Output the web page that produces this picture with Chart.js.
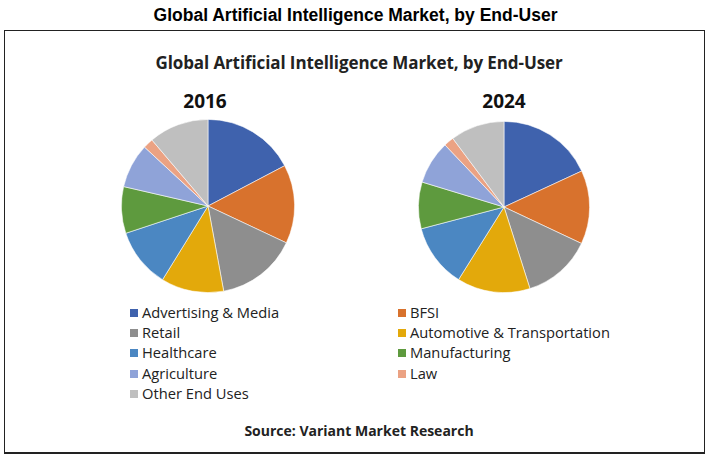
<!DOCTYPE html>
<html>
<head>
<meta charset="utf-8">
<script src="https://cdn.jsdelivr.net/npm/chart.js@4.4.1/dist/chart.umd.min.js"></script>
<style>
  html, body { margin: 0; padding: 0; background: #fff; }
  #root { position: relative; width: 711px; height: 461px; overflow: hidden; }
  #outerTitle { position: absolute; left: 0; top: 5px; width: 711px; text-align: center;
    font-family: "Liberation Sans", Arial, sans-serif; font-weight: bold; font-size: 17.5px; color: #000; }
  #box { position: absolute; left: 4px; top: 30px; width: 699px; height: 421px; border: 1px solid #222; border-bottom-width: 2px; }
  #innerTitle { position: absolute; left: 0; top: 51px; width: 718px; text-align: center;
    font-family: "Open Sans", sans-serif; font-weight: bold; font-size: 17px; color: #222; letter-spacing: -0.1px; }
  .year { position: absolute; top: 88px; width: 100px; text-align: center;
    font-family: "Open Sans", sans-serif; font-weight: bold; font-size: 19px; color: #111; }
  canvas.pie { position: absolute; }
  .leg { position: absolute; font-family: "Open Sans", sans-serif; font-size: 14.7px; color: #222; white-space: nowrap; line-height: 18px; }
  .leg i { display: inline-block; width: 8px; height: 8px; margin-right: 4px; vertical-align: 1px; }
  #source { position: absolute; left: 0; top: 421px; width: 718px; text-align: center;
    font-family: "Open Sans", sans-serif; font-weight: bold; font-size: 14px; color: #222; }
</style>
</head>
<body>
<div id="root">
  <div id="outerTitle">Global Artificial Intelligence Market, by End-User</div>
  <div id="box"></div>
  <div id="innerTitle">Global Artificial Intelligence Market, by End-User</div>
  <div class="year" style="left:155px">2016</div>
  <div class="year" style="left:454px">2024</div>
  <canvas id="pie2016" class="pie" width="174" height="174" style="left:121px;top:119px"></canvas>
  <canvas id="pie2024" class="pie" width="172" height="172" style="left:418px;top:121px"></canvas>
  <div id="legend"></div>
  <div id="source">Source: Variant Market Research</div>
</div>
<script>
const categories = ["Advertising & Media", "BFSI", "Retail", "Automotive & Transportation",
  "Healthcare", "Manufacturing", "Agriculture", "Law", "Other End Uses"];
const share2016 = [17.3, 14.7, 15.1, 11.7, 11.1, 8.7, 8.3, 1.9, 11.2];
const share2024 = [18.1, 13.9, 13.1, 13.8, 12.0, 8.8, 8.2, 1.9, 10.2];
const colors = ["#3F62AD", "#D8722D", "#8E8E8E", "#E3A90B", "#4B87C2",
  "#5E9A3E", "#8FA3D8", "#EBA283", "#BFBFBF"];

function makePie(id, values) {
  new Chart(document.getElementById(id), {
    type: 'pie',
    data: { labels: categories, datasets: [{ data: values, backgroundColor: colors,
      borderColor: 'rgba(255,255,255,0.7)', borderWidth: 0.8 }] },
    options: {
      responsive: false, animation: false,
      layout: { padding: 0 },
      plugins: { legend: { display: false }, tooltip: { enabled: false } }
    }
  });
}
makePie('pie2016', share2016);
makePie('pie2024', share2024);

// legend, two columns filled row-wise
const legend = document.getElementById('legend');
const colX = [130, 398];
const rowY = [303, 323, 343, 364, 384];
categories.forEach((c, i) => {
  const d = document.createElement('div');
  d.className = 'leg';
  d.style.left = colX[i % 2] + 'px';
  d.style.top = rowY[Math.floor(i / 2)] + 'px';
  d.innerHTML = '<i style="background:' + colors[i] + '"></i>' + c.replace('&', '&amp;');
  legend.appendChild(d);
});
</script>
</body>
</html>
